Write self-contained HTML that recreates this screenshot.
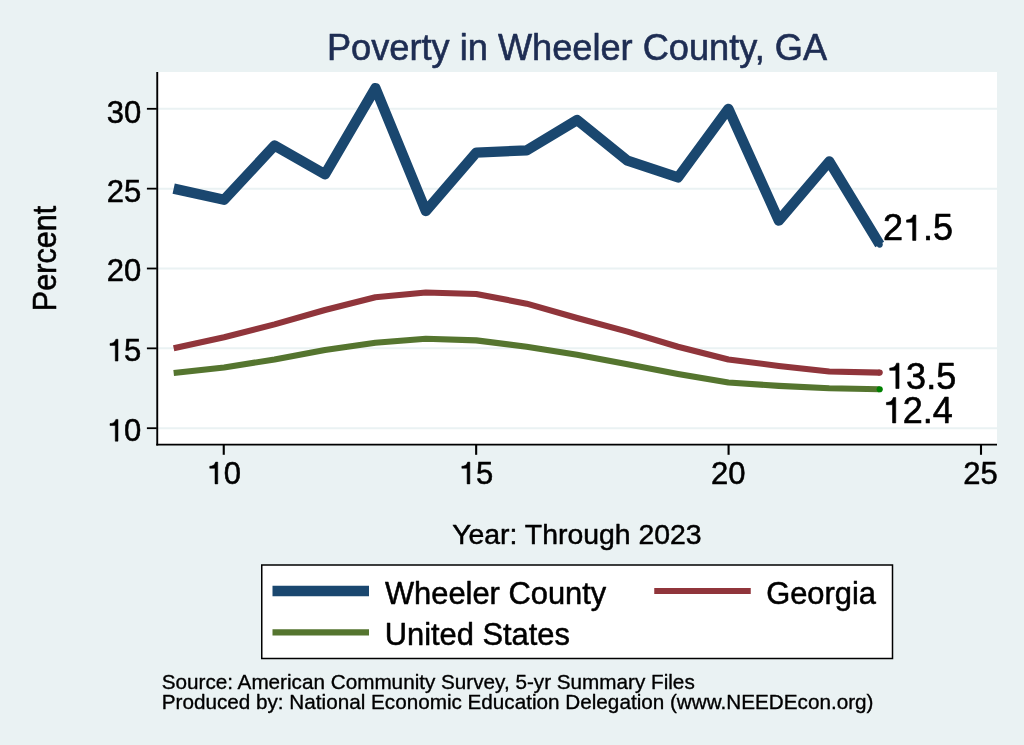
<!DOCTYPE html>
<html lang="en"><head><meta charset="utf-8"><title>Poverty in Wheeler County, GA</title>
<style>
html,body{margin:0;padding:0;background:#eaf2f3;}
body{width:1024px;height:745px;overflow:hidden;}
svg{display:block;}
text{font-family:"Liberation Sans",sans-serif;fill:#000;stroke:#000;stroke-width:0.017em;stroke-linejoin:round;}
svg{will-change:transform;}
</style></head><body>
<svg width="1024" height="745" viewBox="0 0 1024 745">
<rect x="0" y="0" width="1024" height="745" fill="#eaf2f3"/>
<rect x="157.25" y="72.0" width="839.75" height="372.6" fill="#ffffff"/>
<g stroke="#eaf2f3" stroke-width="2">
<line x1="157.25" x2="997.0" y1="428.20" y2="428.20"/>
<line x1="157.25" x2="997.0" y1="348.35" y2="348.35"/>
<line x1="157.25" x2="997.0" y1="268.50" y2="268.50"/>
<line x1="157.25" x2="997.0" y1="188.65" y2="188.65"/>
<line x1="157.25" x2="997.0" y1="108.80" y2="108.80"/>
</g>
<path d="M173.67,188.65 L224.10,199.83 L274.53,145.53 L324.96,174.28 L375.39,88.04 L425.82,211.01 L476.25,152.72 L526.68,150.32 L577.11,119.98 L627.54,160.70 L677.97,177.47 L728.40,108.80 L778.83,220.59 L829.26,161.50 L879.69,244.54" fill="none" stroke="#1a476f" stroke-width="10.3" stroke-linejoin="round" stroke-linecap="butt"/>
<path d="M173.67,348.35 L224.10,337.17 L274.53,324.39 L324.96,310.02 L375.39,297.25 L425.82,292.45 L476.25,294.05 L526.68,303.63 L577.11,318.01 L627.54,331.58 L677.97,346.75 L728.40,359.53 L778.83,365.92 L829.26,371.51 L879.69,372.62" fill="none" stroke="#90353b" stroke-width="6.1" stroke-linejoin="round" stroke-linecap="butt"/>
<path d="M173.67,372.94 L224.10,367.51 L274.53,359.53 L324.96,349.95 L375.39,342.76 L425.82,338.77 L476.25,340.37 L526.68,346.75 L577.11,354.74 L627.54,364.32 L677.97,373.90 L728.40,382.53 L778.83,385.88 L829.26,388.27 L879.69,389.23" fill="none" stroke="#55752f" stroke-width="6.1" stroke-linejoin="round" stroke-linecap="butt"/>
<circle cx="879.69" cy="244.54" r="3.1" fill="#1a476f"/>
<circle cx="879.69" cy="372.62" r="3.1" fill="#90353b"/>
<circle cx="879.69" cy="389.23" r="3.1" fill="#008000"/>
<g stroke="#000" fill="none">
<line x1="157.25" x2="157.25" y1="72" y2="445.45" stroke-width="1.9"/>
<line x1="156.3" x2="997" y1="444.6" y2="444.6" stroke-width="1.7"/>
<line x1="146.9" x2="156.8" y1="428.20" y2="428.20" stroke-width="1.8"/>
<line x1="146.9" x2="156.8" y1="348.35" y2="348.35" stroke-width="1.8"/>
<line x1="146.9" x2="156.8" y1="268.50" y2="268.50" stroke-width="1.8"/>
<line x1="146.9" x2="156.8" y1="188.65" y2="188.65" stroke-width="1.8"/>
<line x1="146.9" x2="156.8" y1="108.80" y2="108.80" stroke-width="1.8"/>
<line x1="223.75" x2="223.75" y1="445" y2="454.8" stroke-width="2.1"/>
<line x1="476.16" x2="476.16" y1="445" y2="454.8" stroke-width="2.1"/>
<line x1="728.58" x2="728.58" y1="445" y2="454.8" stroke-width="2.1"/>
<line x1="981.00" x2="981.00" y1="445" y2="454.8" stroke-width="2.1"/>
</g>
<path d="M359 0H271V505H101V568C190 572 262 600 290 703H359Z" transform="translate(106.87,441.20) scale(0.03100,-0.03100)" fill="#000" stroke="#000" stroke-width="17" stroke-linejoin="round"/><text x="124.11" y="441.20" font-size="31">0</text>
<path d="M359 0H271V505H101V568C190 572 262 600 290 703H359Z" transform="translate(106.87,361.05) scale(0.03100,-0.03100)" fill="#000" stroke="#000" stroke-width="17" stroke-linejoin="round"/><text x="124.11" y="361.05" font-size="31">5</text>
<text x="106.87" y="281.30" font-size="31">20</text>
<text x="106.87" y="202.20" font-size="31">25</text>
<text x="106.87" y="122.90" font-size="31">30</text>
<path d="M359 0H271V505H101V568C190 572 262 600 290 703H359Z" transform="translate(206.61,483.90) scale(0.03100,-0.03100)" fill="#000" stroke="#000" stroke-width="17" stroke-linejoin="round"/><text x="223.85" y="483.90" font-size="31">0</text>
<path d="M359 0H271V505H101V568C190 572 262 600 290 703H359Z" transform="translate(458.72,483.90) scale(0.03100,-0.03100)" fill="#000" stroke="#000" stroke-width="17" stroke-linejoin="round"/><text x="475.96" y="483.90" font-size="31">5</text>
<text x="710.94" y="483.90" font-size="31">20</text>
<text x="963.30" y="483.90" font-size="31">25</text>
<text x="882.90" y="240.40" font-size="36">2</text><path d="M359 0H271V505H101V568C190 572 262 600 290 703H359Z" transform="translate(902.92,240.40) scale(0.03600,-0.03600)" fill="#000" stroke="#000" stroke-width="17" stroke-linejoin="round"/><text x="922.94" y="240.40" font-size="36">.5</text>
<path d="M359 0H271V505H101V568C190 572 262 600 290 703H359Z" transform="translate(886.10,388.50) scale(0.03600,-0.03600)" fill="#000" stroke="#000" stroke-width="17" stroke-linejoin="round"/><text x="906.12" y="388.50" font-size="36">3.5</text>
<path d="M359 0H271V505H101V568C190 572 262 600 290 703H359Z" transform="translate(882.80,422.90) scale(0.03600,-0.03600)" fill="#000" stroke="#000" stroke-width="17" stroke-linejoin="round"/><text x="902.82" y="422.90" font-size="36">2.4</text>
<text x="577.0" y="59.5" font-size="36.2" text-anchor="middle" style="fill:#1e2d53;stroke:#1e2d53">Poverty in Wheeler County, GA</text>
<text x="576.9" y="543.9" font-size="28.4" text-anchor="middle">Year: Through 2023</text>
<text transform="translate(56.2,258.5) rotate(-90) scale(0.944,1)" font-size="32.4" text-anchor="middle">Percent</text>
<rect x="261.75" y="565" width="630.75" height="93.5" fill="#ffffff" stroke="#000" stroke-width="1.5"/>
<line x1="272.5" x2="369" y1="591" y2="591" stroke="#1a476f" stroke-width="10.3"/>
<line x1="654.25" x2="750.75" y1="591" y2="591" stroke="#90353b" stroke-width="6.1"/>
<line x1="272.5" x2="369" y1="632.4" y2="632.4" stroke="#55752f" stroke-width="6.1"/>
<g font-size="30.5">
<text transform="translate(385.0,603.5) scale(1.012,1)">Wheeler County</text>
<text transform="translate(766.2,603.6) scale(1.012,1)">Georgia</text>
<text transform="translate(384.7,644.9) scale(1.012,1)">United States</text>
</g>
<g font-size="20.7">
<text x="161.7" y="689">Source: American Community Survey, 5-yr Summary Files</text>
<text x="161.7" y="709.1">Produced by: National Economic Education Delegation (www.NEEDEcon.org)</text>
</g>
</svg></body></html>
